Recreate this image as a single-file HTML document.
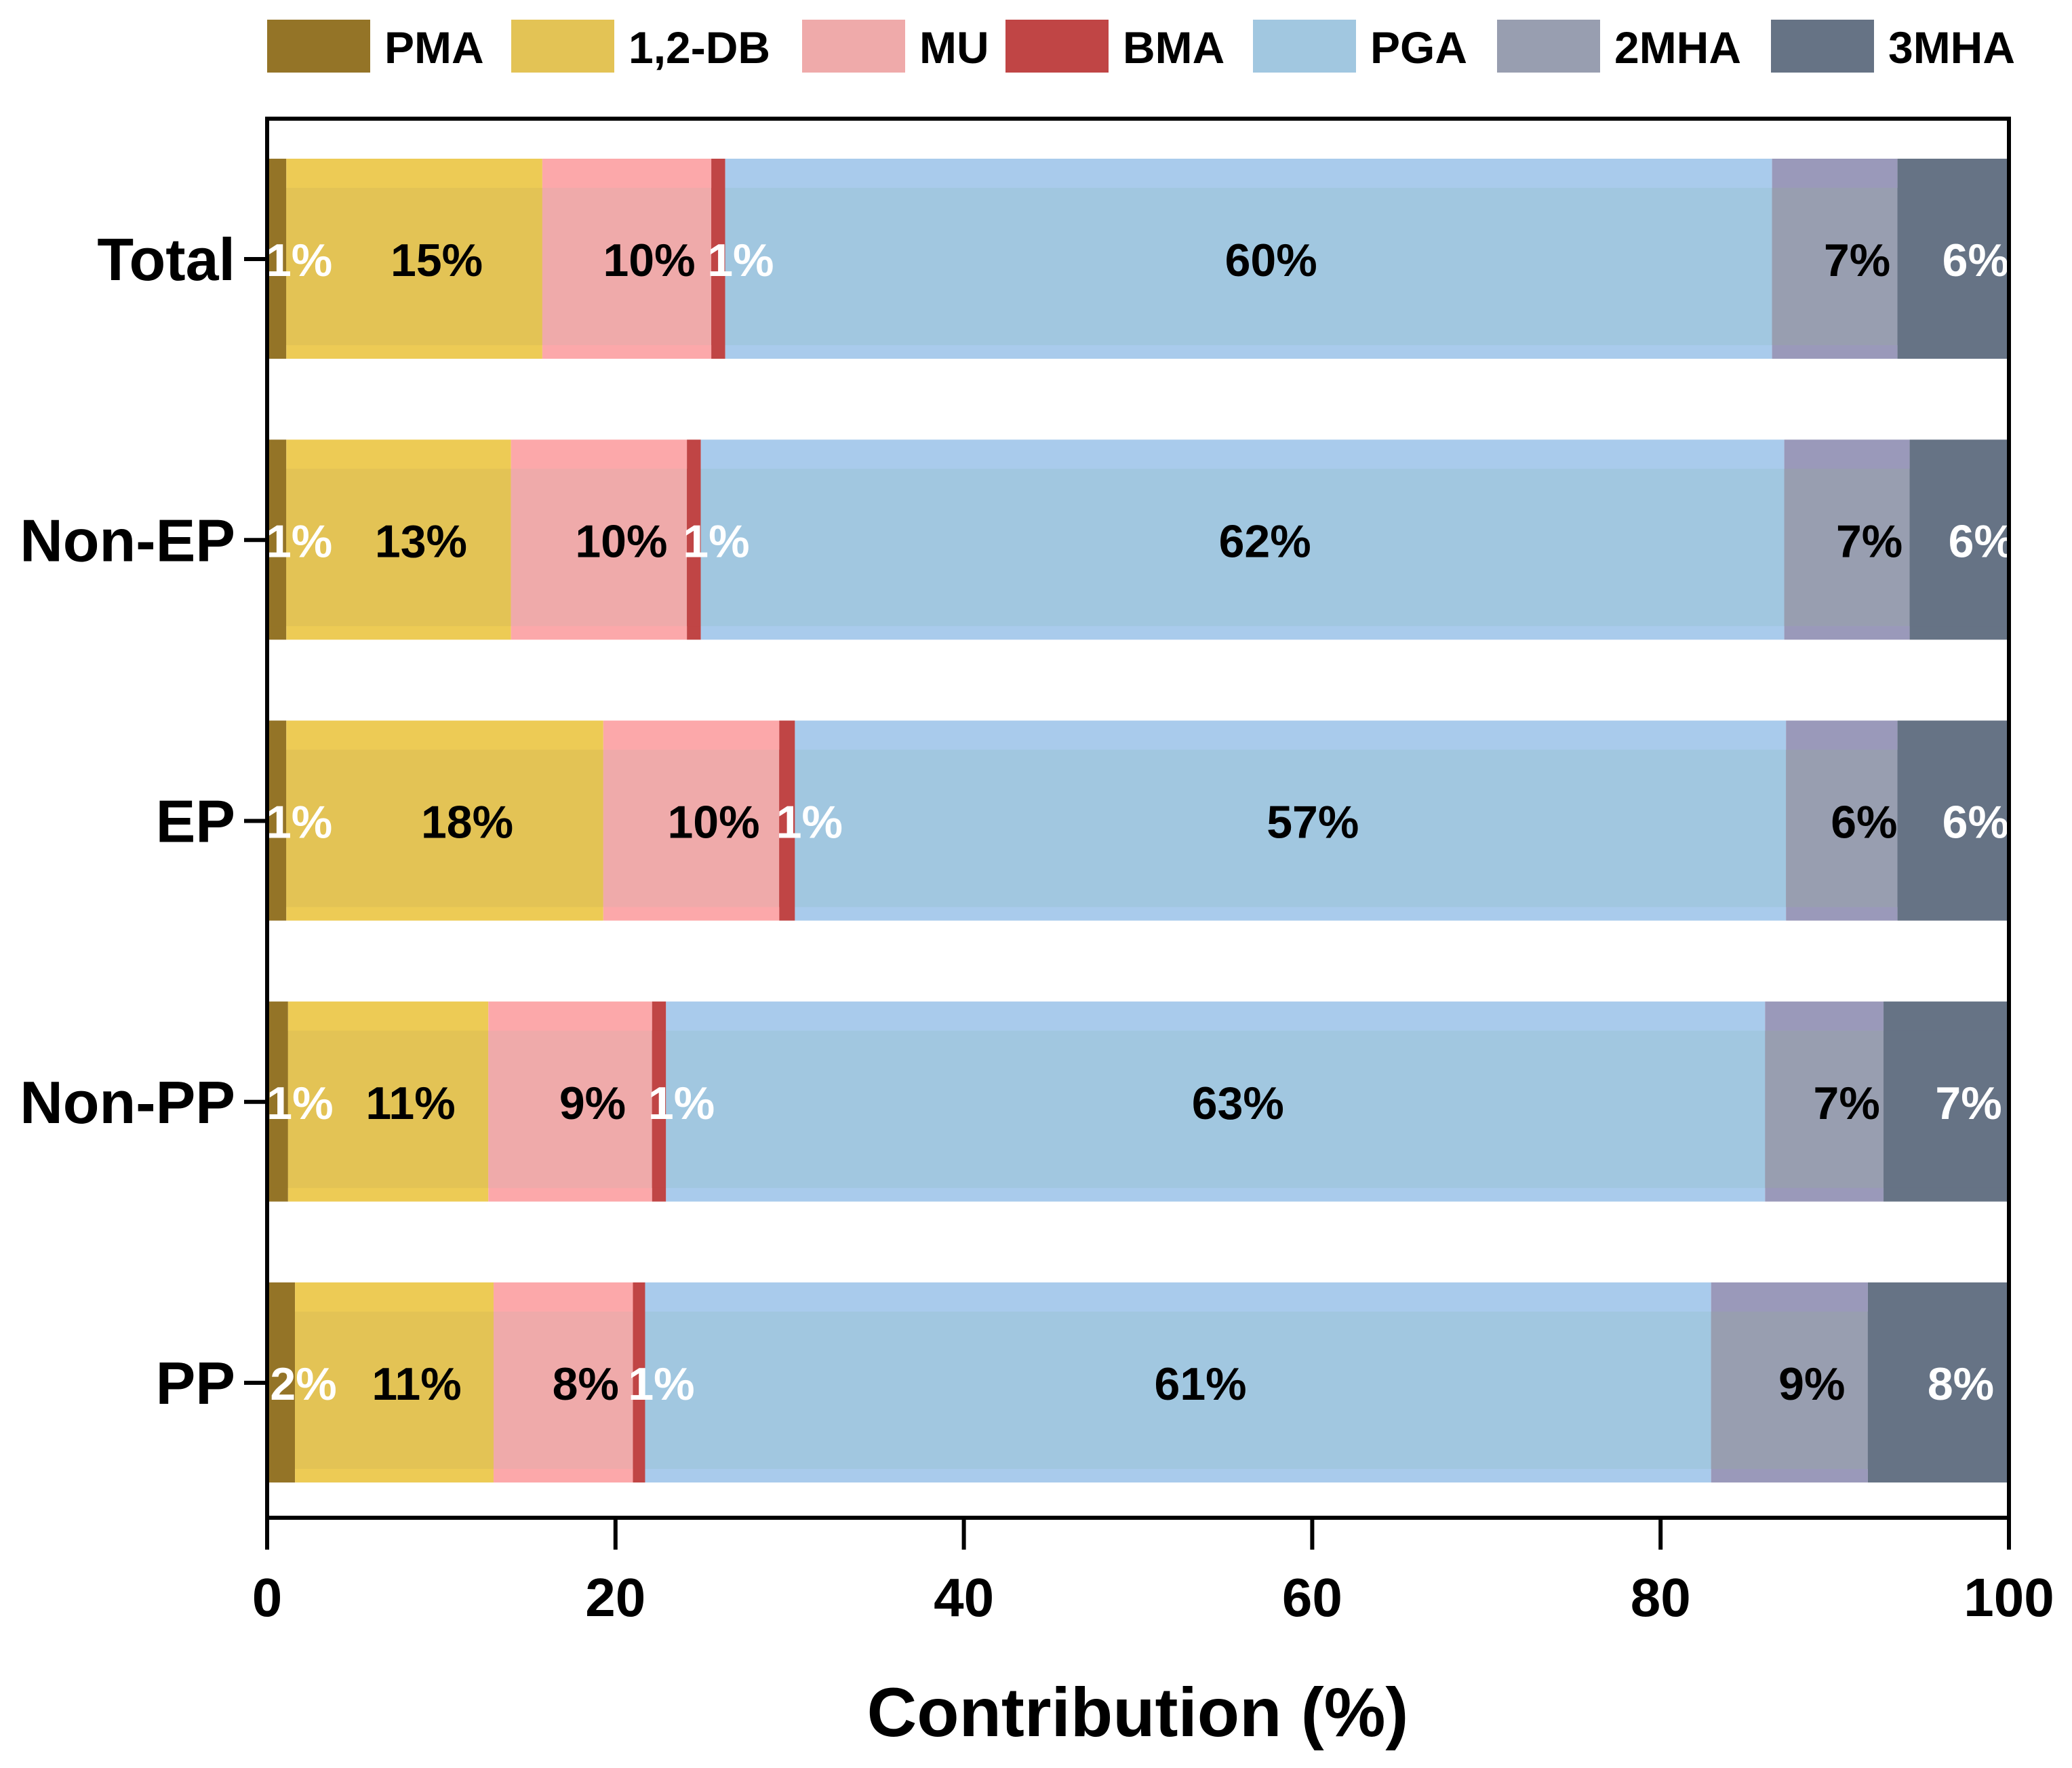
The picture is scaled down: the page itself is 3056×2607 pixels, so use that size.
<!DOCTYPE html>
<html><head><meta charset="utf-8"><style>
html,body{margin:0;padding:0;background:#fff;}
svg{display:block;font-family:"Liberation Sans",Arial,sans-serif;font-weight:bold;}
</style></head><body>
<svg id="chart" width="3056" height="2607" viewBox="0 0 3056 2607">
<g id="legend"></g>
<g id="bars"></g>
<g id="axes"></g>
</svg>
<script>
const categories = ["Total","Non-EP","EP","Non-PP","PP"];
const seriesNames = ["PMA","1,2-DB","MU","BMA","PGA","2MHA","3MHA"];
const PMA   = [1.1, 1.1, 1.1, 1.2, 1.6];
const DB12  = [14.7, 12.9, 18.2, 11.5, 11.4];
const MU    = [9.7, 10.1, 10.1, 9.4, 8.0];
const BMA   = [0.8, 0.8, 0.9, 0.8, 0.7];
const PGA   = [60.1, 62.2, 56.9, 63.1, 61.2];
const MHA2  = [7.2, 7.2, 6.4, 6.8, 9.0];
const MHA3  = [6.4, 5.7, 6.4, 7.2, 8.1];
const labelsPMA  = ["1%","1%","1%","1%","2%"];
const labelsDB12 = ["15%","13%","18%","11%","11%"];
const labelsMU   = ["10%","10%","10%","9%","8%"];
const labelsBMA  = ["1%","1%","1%","1%","1%"];
const labelsPGA  = ["60%","62%","57%","63%","61%"];
const labelsMHA2 = ["7%","7%","6%","7%","9%"];
const labelsMHA3 = ["6%","6%","6%","7%","8%"];
const xTicks = [0,20,40,60,80,100];

const series = [PMA,DB12,MU,BMA,PGA,MHA2,MHA3];
const labels = [labelsPMA,labelsDB12,labelsMU,labelsBMA,labelsPGA,labelsMHA2,labelsMHA3];
const inner = ["#947427","#e3c355","#efaaaa","#c04545","#a1c7e0","#989eb0","#667385"];
const outer = ["#947427","#edcb55","#fca8aa","#c04545","#a9cbec","#9a99ba","#667385"];
const labCol = ["#fff","#000","#000","#fff","#000","#000","#fff"];
const L=394,R=2963,T=175,B=2238;
const NS="http://www.w3.org/2000/svg";
function x(v){return L+(R-L)*v/100;}
function yc(i){return 382+i*414.25;}
function mk(tag,attrs,parent){const e=document.createElementNS(NS,tag);for(const k in attrs)e.setAttribute(k,attrs[k]);parent.appendChild(e);return e;}
const gB=document.getElementById('bars'),gA=document.getElementById('axes'),gL=document.getElementById('legend');
categories.forEach((c,i)=>{
  let acc=0;const cy=yc(i);
  series.forEach((s,j)=>{
    const v=s[i];const x0=x(acc),x1=x(acc+v);
    const r1=mk('rect',{x:x0,y:cy-148,width:x1-x0,height:295,fill:outer[j]},gB);
    
    
    const r2=mk('rect',{x:x0,y:cy-105,width:x1-x0,height:232,fill:inner[j]},gB);
    
    
    acc+=v;
  });
  acc=0;
  series.forEach((s,j)=>{
    const v=s[i];
    const t=mk('text',{x:x(acc+v/2)+33,y:yc(i)+25,'font-size':68,'text-anchor':'middle',fill:labCol[j]},gB);
    t.textContent=labels[j][i];
    
    
    acc+=v;
  });
  mk('line',{x1:360,x2:394,y1:yc(i),y2:yc(i),stroke:'#000','stroke-width':6},gA);
  const ct=mk('text',{x:347,y:yc(i)+31,'font-size':88,'text-anchor':'end',fill:'#000'},gA);
  ct.textContent=c;
  
  
});
const fr=mk('rect',{x:L,y:T,width:R-L,height:B-T,fill:'none',stroke:'#000','stroke-width':6},gA);


xTicks.forEach(v=>{
  mk('line',{x1:x(v),x2:x(v),y1:B,y2:2285,stroke:'#000','stroke-width':6},gA);
  const t=mk('text',{x:x(v),y:2383,'font-size':80,'text-anchor':'middle',fill:'#000'},gA);
  t.textContent=v;
  
  
});
const xt=mk('text',{x:1678,y:2560,'font-size':102,'text-anchor':'middle',fill:'#000'},gA);
xt.textContent='Contribution (%)';


const lx=[394,754,1183,1483,1848,2208,2612];
seriesNames.forEach((n,j)=>{
  const r=mk('rect',{x:lx[j],y:29,width:152,height:78,fill:inner[j]},gL);
  
  
  const t=mk('text',{x:lx[j]+173,y:93,'font-size':66,fill:'#000'},gL);
  t.textContent=n;
  
  
});
</script>
</body></html>
